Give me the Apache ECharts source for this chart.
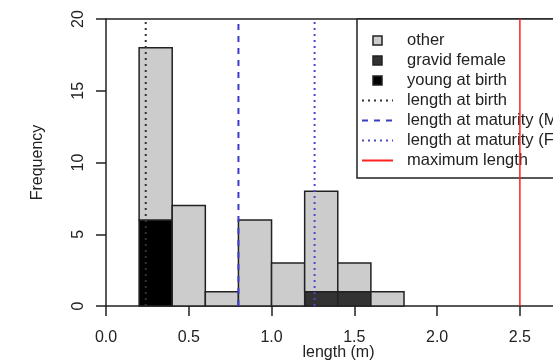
<!DOCTYPE html>
<html>
<head>
<meta charset="utf-8">
<script src="https://cdn.jsdelivr.net/npm/echarts@6/dist/echarts.min.js"></script>
<style>
  html, body { margin: 0; padding: 0; background: #fff; }
  #main { width: 553px; height: 362px; }
</style>
</head>
<body>
<div id="main"></div>
<script>
// histogram bins (left edges, width 0.2 m)
var binStart = [0.2, 0.4, 0.6, 0.8, 1.0, 1.2, 1.4, 1.6];
var binWidth = 0.2;
var youngAtBirth = [6, 0, 0, 0, 0, 0, 0, 0];
var gravidFemale = [0, 0, 0, 0, 0, 1, 1, 0];
var other = [12, 7, 1, 6, 3, 7, 2, 1];

// reference lengths (m)
var lengthAtBirth = 0.24;
var maturityM = 0.8;
var maturityF = 1.26;
var maxLength = 2.5;

var xTicks = [0, 0.5, 1.0, 1.5, 2.0, 2.5];

var chart = echarts.init(document.getElementById('main'));
var font = 'Liberation Sans, Arial, sans-serif';
var ink = '#222';

// stacked rectangles: [x0, x1, yBottom, yTop]
function stackRows(vals, below) {
  var rows = [];
  vals.forEach(function (v, i) {
    if (v > 0) {
      var b = below ? below[i] : 0;
      rows.push([binStart[i], binStart[i] + binWidth, b, b + v]);
    }
  });
  return rows;
}
var base2 = youngAtBirth.map(function (v, i) { return v + gravidFemale[i]; });

function rectItem(params, api) {
  var p0 = api.coord([api.value(0), api.value(3)]);
  var p1 = api.coord([api.value(1), api.value(2)]);
  return {
    type: 'rect',
    shape: { x: p0[0], y: p0[1], width: p1[0] - p0[0], height: p1[1] - p0[1] },
    style: { fill: api.visual('color'), stroke: ink, lineWidth: 1.5 }
  };
}

function vline(name, x, color, type, width) {
  return {
    name: name,
    type: 'line',
    data: [[x, 0], [x, 20]],
    symbol: 'none',
    z: 5,
    lineStyle: { color: color, type: type, width: width },
    itemStyle: { color: color }
  };
}

var sq = 'path://M0,0L10,0L10,10L0,10Z';
var sqStyle = { borderColor: ink, borderWidth: 1.5 };

chart.setOption({
  animation: false,
  grid: { left: 106, right: 0, top: 19, bottom: 56, containLabel: false, outerBoundsMode: 'none' },
  xAxis: [{
    type: 'value',
    min: 0, max: 2.7,
    name: 'length (m)',
    nameLocation: 'middle',
    nameGap: 39,
    nameMoveOverlap: false,
    nameTextStyle: { fontFamily: font, fontSize: 16, color: ink, padding: [0, 0, 0, 18] },
    axisLine: { show: true, lineStyle: { color: ink, width: 1.5 } },
    axisTick: { show: true, length: 10, customValues: xTicks, lineStyle: { color: ink, width: 1.5 } },
    axisLabel: {
      customValues: xTicks, margin: 24,
      fontFamily: font, fontSize: 16, color: ink,
      formatter: function (v) { return v.toFixed(1); }
    },
    splitLine: { show: false }
  }, {
    // top frame line
    type: 'value', position: 'top',
    min: 0, max: 2.7,
    axisLine: { show: true, lineStyle: { color: ink, width: 1.5 } },
    axisTick: { show: false }, axisLabel: { show: false }, splitLine: { show: false }
  }],
  yAxis: {
    type: 'value',
    min: 0, max: 20, interval: 5,
    name: 'Frequency',
    nameLocation: 'middle',
    nameGap: 60,
    nameTextStyle: { fontFamily: font, fontSize: 16, color: ink },
    axisLine: { show: true, lineStyle: { color: ink, width: 1.5 } },
    axisTick: { show: true, length: 10, lineStyle: { color: ink, width: 1.5 } },
    axisLabel: { rotate: 90, margin: 19, fontFamily: font, fontSize: 16, color: ink },
    splitLine: { show: false }
  },
  legend: {
    orient: 'vertical',
    left: 357, top: 19,
    padding: [13, 80, 9, 4],
    itemGap: 3,
    itemWidth: 31, itemHeight: 9,
    backgroundColor: '#fff',
    borderColor: ink, borderWidth: 1.5,
    textStyle: { fontFamily: font, fontSize: 16.5, color: ink, padding: [0, 0, 0, 9] },
    data: [
      { name: 'other', icon: sq, itemStyle: sqStyle },
      { name: 'gravid female', icon: sq, itemStyle: sqStyle },
      { name: 'young at birth', icon: sq, itemStyle: sqStyle },
      { name: 'length at birth', itemStyle: { opacity: 0 } },
      { name: 'length at maturity (M)', itemStyle: { opacity: 0 } },
      { name: 'length at maturity (F)', itemStyle: { opacity: 0 } },
      { name: 'maximum length', itemStyle: { opacity: 0 } }
    ]
  },
  series: [
    { name: 'young at birth', type: 'custom', renderItem: rectItem,
      itemStyle: { color: '#000' }, encode: { x: [0, 1], y: [2, 3] },
      data: stackRows(youngAtBirth) },
    { name: 'gravid female', type: 'custom', renderItem: rectItem,
      itemStyle: { color: '#333' }, encode: { x: [0, 1], y: [2, 3] },
      data: stackRows(gravidFemale, youngAtBirth) },
    { name: 'other', type: 'custom', renderItem: rectItem,
      itemStyle: { color: '#ccc' }, encode: { x: [0, 1], y: [2, 3] },
      data: stackRows(other, base2) },
    vline('length at birth', lengthAtBirth, '#333', [2, 4], 2),
    vline('length at maturity (M)', maturityM, '#3b3bc4', [6, 6], 2),
    vline('length at maturity (F)', maturityF, '#4a4ac8', [2, 4], 2),
    vline('maximum length', maxLength, '#ff2020', 'solid', 1.5)
  ]
});
</script>
</body>
</html>
